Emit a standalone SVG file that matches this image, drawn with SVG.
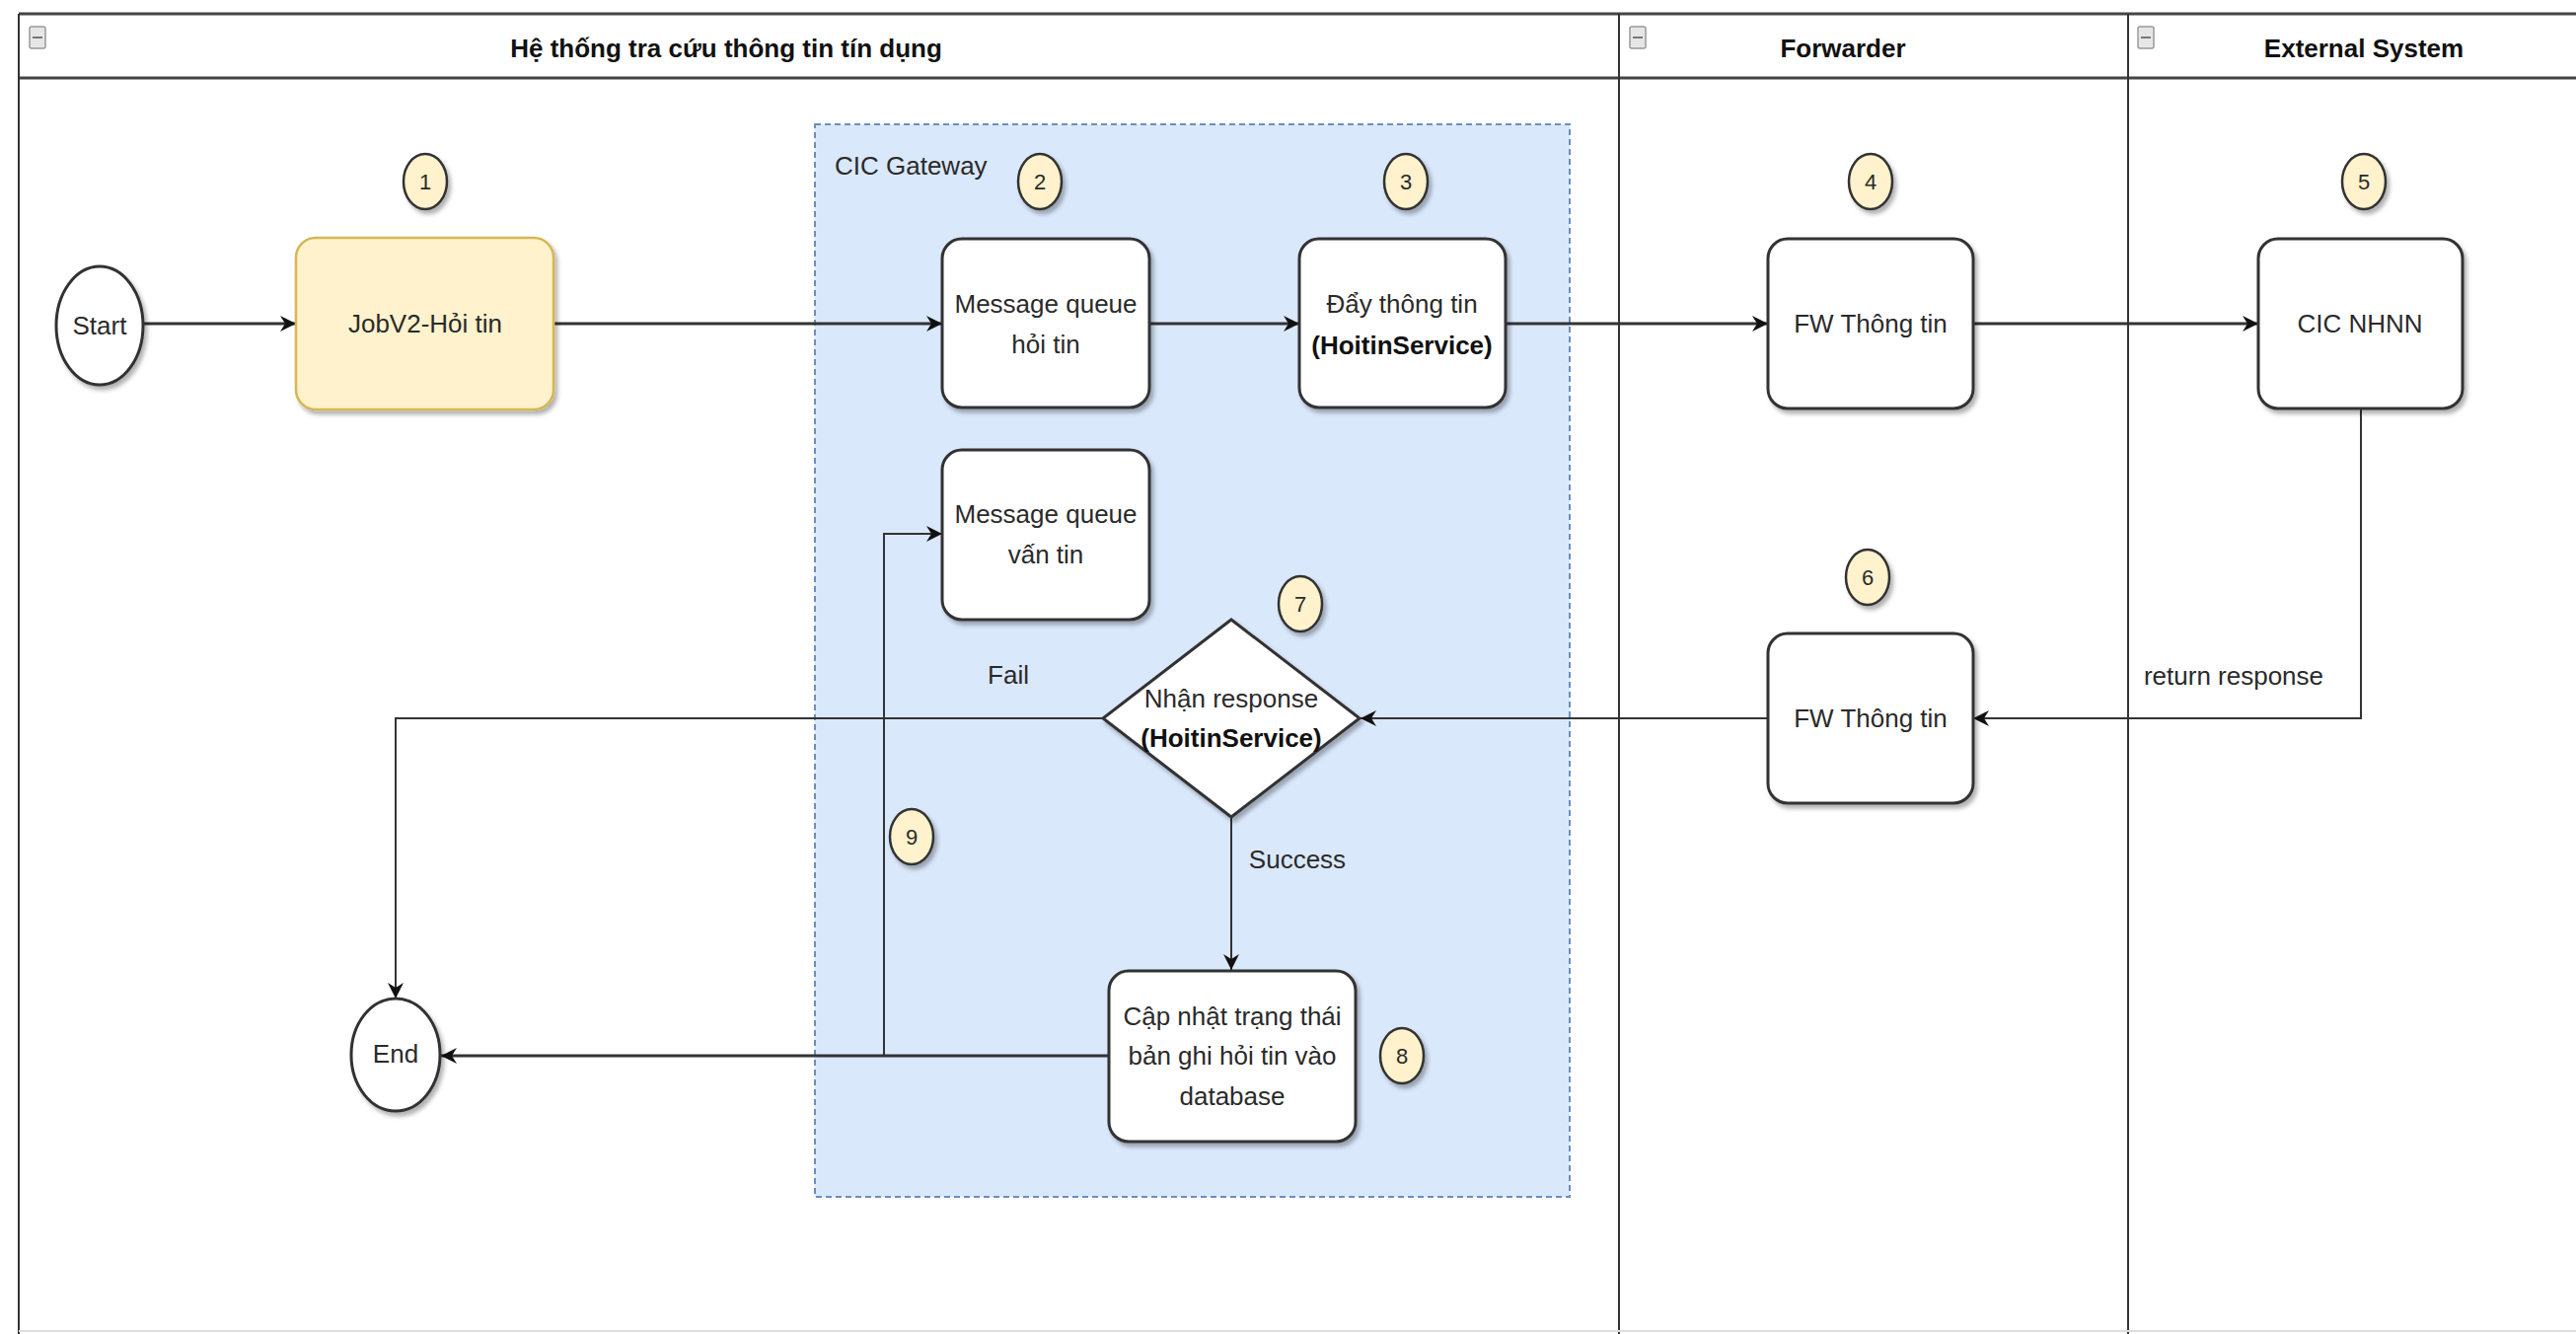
<svg xmlns="http://www.w3.org/2000/svg" width="2611" height="1352" viewBox="0 0 2611 1352">
<style>
text{font-family:"Liberation Sans",Arial,sans-serif;font-size:26px;fill:#2a2a2a;dominant-baseline:central;text-anchor:middle}
.hd{font-weight:bold;fill:#111}
.b{font-weight:bold;fill:#111}
.lane{stroke:#333;stroke-width:2;fill:none}
.hline{stroke:#444;stroke-width:3;fill:none}
.box{fill:#fff;stroke:#333;stroke-width:3;filter:url(#sh)}
.job{fill:#fff2cc;stroke:#d6b656;stroke-width:2.5;filter:url(#sh)}
.badge{fill:#fff2cc;stroke:#333;stroke-width:2.5;filter:url(#sh)}
.bn{font-size:22px}
.c{fill:none;stroke:#333;stroke-width:3}
.c2{fill:none;stroke:#333;stroke-width:2}
.ico{fill:#e6e6e6;stroke:#999;stroke-width:1.5}
</style>
<defs>
<filter id="sh" x="-20%" y="-20%" width="150%" height="150%">
<feDropShadow dx="3" dy="4" stdDeviation="2" flood-color="#000" flood-opacity="0.3"/>
</filter>
<marker id="ar" markerUnits="userSpaceOnUse" markerWidth="18" markerHeight="18" refX="16" refY="9" orient="auto">
<path d="M0,1 L16,9 L0,17 L5,9 Z" fill="#111"/>
</marker>
</defs>

<g id="pool">
<rect x="0" y="0" width="2611" height="1352" fill="#fff"/>
<line class="hline" x1="19" y1="14" x2="2611" y2="14"/>
<line class="hline" x1="19" y1="79" x2="2611" y2="79"/>
<line class="lane" x1="19" y1="14" x2="19" y2="1352"/>
<line class="lane" x1="1641" y1="14" x2="1641" y2="1352"/>
<line class="lane" x1="2157" y1="14" x2="2157" y2="1352"/>
<line x1="19" y1="1349" x2="2611" y2="1349" stroke="#ddd" stroke-width="2"/>
<rect class="ico" x="30" y="27" width="16" height="22" rx="2"/>
<line x1="33" y1="38" x2="43" y2="38" stroke="#777" stroke-width="2"/>
<rect class="ico" x="1652" y="27" width="16" height="22" rx="2"/>
<line x1="1655" y1="38" x2="1665" y2="38" stroke="#777" stroke-width="2"/>
<rect class="ico" x="2167" y="27" width="16" height="22" rx="2"/>
<line x1="2170" y1="38" x2="2180" y2="38" stroke="#777" stroke-width="2"/>
<text class="hd" x="736" y="49">Hệ thống tra cứu thông tin tín dụng</text>
<text class="hd" x="1868" y="49">Forwarder</text>
<text class="hd" x="2396" y="49">External System</text>
</g>

<g id="gateway">
<rect x="826" y="126" width="765" height="1087" fill="#dae8fc" stroke="#6c8ebf" stroke-width="2" stroke-dasharray="6 4"/>
<text x="846" y="168" style="text-anchor:start">CIC Gateway</text>
</g>

<g id="connectors">
<path class="c" d="M145,328 L300,328" marker-end="url(#ar)"/>
<path class="c" d="M561,328 L955,328" marker-end="url(#ar)"/>
<path class="c" d="M1165,328 L1317,328" marker-end="url(#ar)"/>
<path class="c" d="M1526,328 L1792,328" marker-end="url(#ar)"/>
<path class="c" d="M2000,328 L2289,328" marker-end="url(#ar)"/>
<path class="c2" d="M2393,414 L2393,728 L2000,728" marker-end="url(#ar)"/>
<path class="c2" d="M1792,728 L1379,728" marker-end="url(#ar)"/>
<path class="c2" d="M1118,728 L401,728 L401,1012" marker-end="url(#ar)"/>
<path class="c2" d="M1248,828 L1248,983" marker-end="url(#ar)"/>
<path class="c" d="M1124,1070 L447,1070" marker-end="url(#ar)"/>
<path class="c2" d="M1124,1070 L896,1070 L896,541 L955,541" marker-end="url(#ar)"/>
<text x="2264" y="685">return response</text>
<text x="1022" y="684">Fail</text>
<text x="1315" y="871">Success</text>
</g>

<g id="start">
<ellipse class="box" cx="101" cy="330" rx="44" ry="60"/>
<text x="101" y="330">Start</text>
</g>
<g id="end">
<ellipse class="box" cx="401" cy="1069" rx="45" ry="57"/>
<text x="401" y="1068">End</text>
</g>

<g id="job">
<rect class="job" x="300" y="241" width="261" height="174" rx="20"/>
<text x="431" y="328">JobV2-Hỏi tin</text>
</g>
<g id="mq-hoi">
<rect class="box" x="955" y="242" width="210" height="171" rx="20"/>
<text x="1060" y="308">Message queue</text>
<text x="1060" y="349">hỏi tin</text>
</g>
<g id="day">
<rect class="box" x="1317" y="242" width="209" height="171" rx="20"/>
<text x="1421" y="308">Đẩy thông tin</text>
<text class="b" x="1421" y="350">(HoitinService)</text>
</g>
<g id="fw1">
<rect class="box" x="1792" y="242" width="208" height="172" rx="20"/>
<text x="1896" y="328">FW Thông tin</text>
</g>
<g id="cic">
<rect class="box" x="2289" y="242" width="207" height="172" rx="20"/>
<text x="2392" y="328">CIC NHNN</text>
</g>
<g id="mq-van">
<rect class="box" x="955" y="456" width="210" height="172" rx="20"/>
<text x="1060" y="521">Message queue</text>
<text x="1060" y="562">vấn tin</text>
</g>
<g id="fw2">
<rect class="box" x="1792" y="642" width="208" height="172" rx="20"/>
<text x="1896" y="728">FW Thông tin</text>
</g>
<g id="decision">
<path class="box" d="M1248,628 L1378,728 L1248,828 L1118,728 Z"/>
<text x="1248" y="708">Nhận response</text>
<text class="b" x="1248" y="748">(HoitinService)</text>
</g>
<g id="update">
<rect class="box" x="1124" y="984" width="250" height="173" rx="20"/>
<text x="1249" y="1030">Cập nhật trạng thái</text>
<text x="1249" y="1070">bản ghi hỏi tin vào</text>
<text x="1249" y="1111">database</text>
</g>

<g id="badges">
<ellipse class="badge" cx="431" cy="184" rx="22" ry="28"/><text class="bn" x="431" y="184">1</text>
<ellipse class="badge" cx="1054" cy="184" rx="22" ry="28"/><text class="bn" x="1054" y="184">2</text>
<ellipse class="badge" cx="1425" cy="184" rx="22" ry="28"/><text class="bn" x="1425" y="184">3</text>
<ellipse class="badge" cx="1896" cy="184" rx="22" ry="28"/><text class="bn" x="1896" y="184">4</text>
<ellipse class="badge" cx="2396" cy="184" rx="22" ry="28"/><text class="bn" x="2396" y="184">5</text>
<ellipse class="badge" cx="1893" cy="585" rx="22" ry="28"/><text class="bn" x="1893" y="585">6</text>
<ellipse class="badge" cx="1318" cy="612" rx="22" ry="28"/><text class="bn" x="1318" y="612">7</text>
<ellipse class="badge" cx="1421" cy="1070" rx="22" ry="28"/><text class="bn" x="1421" y="1070">8</text>
<ellipse class="badge" cx="924" cy="848" rx="22" ry="28"/><text class="bn" x="924" y="848">9</text>
</g>
</svg>
